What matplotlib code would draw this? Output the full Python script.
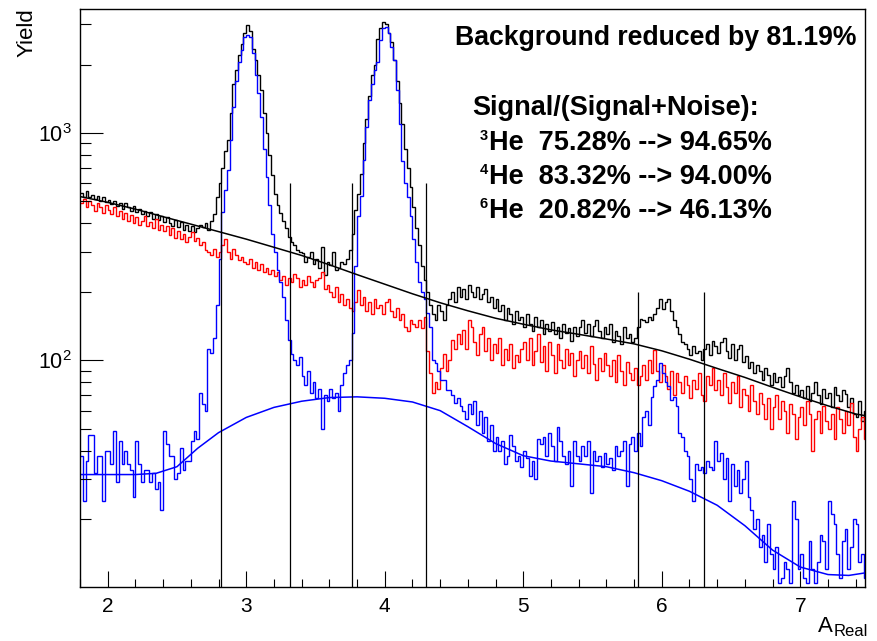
import numpy as np
import matplotlib.pyplot as plt
from matplotlib.ticker import MultipleLocator, LogLocator, NullFormatter, FuncFormatter

plt.rcParams['font.family'] = ['Liberation Sans', 'DejaVu Sans']
plt.rcParams['mathtext.fontset'] = 'custom'
plt.rcParams['mathtext.rm'] = 'Liberation Sans'
plt.rcParams['mathtext.it'] = 'Liberation Sans:italic'
plt.rcParams['mathtext.bf'] = 'Liberation Sans:bold'

# histogram binning (A_Real)
a_min = 1.80
a_step = 0.02
n_bins = 284

# all events (black)
total = [
    545, 525, 555, 520, 535, 510, 530, 500, 520, 495,
    505, 485, 500, 475, 490, 465, 490, 470, 455, 475,
    450, 465, 440, 455, 430, 450, 420, 440, 415, 430,
    405, 425, 400, 390, 415, 385, 405, 375, 395, 370,
    390, 365, 380, 395, 385, 400, 375, 410, 440, 520,
    600, 700, 830, 930, 1220, 1650, 1900, 2200, 2450, 2750,
    2980, 2800, 2350, 2100, 1800, 1550, 1230, 1000, 800, 650,
    540, 480, 445, 410, 380, 350, 330, 320, 305, 300,
    295, 270, 285, 300, 265, 280, 255, 316, 237, 270,
    262, 300, 250, 255, 270, 265, 280, 306, 360, 460,
    540, 660, 900, 1150, 1450, 1800, 2000, 2600, 2900, 3070,
    3000, 2750, 2500, 2100, 1700, 1350, 1100, 850, 700, 580,
    470, 380, 320, 260, 225, 200, 175, 160, 150, 175,
    165, 150, 175, 185, 200, 180, 210, 190, 205, 185,
    215, 200, 190, 210, 185, 195, 205, 180, 190, 170,
    185, 165, 175, 150, 170, 160, 145, 165, 150, 155,
    140, 160, 145, 135, 155, 140, 150, 130, 145, 135,
    148, 130, 140, 125, 145, 132, 138, 122, 140, 128,
    140, 150, 132, 145, 128, 142, 150, 135, 125, 140,
    130, 145, 120, 135, 128, 118, 140, 125, 130, 120,
    125, 140, 152, 150, 148, 155, 150, 160, 170, 185,
    168, 180, 185, 165, 150, 140, 130, 120, 118, 112,
    105, 115, 108, 110, 100, 112, 118, 105, 122, 115,
    108, 120, 125, 110, 102, 118, 100, 112, 117, 98,
    104, 92, 98, 88, 95, 90, 82, 92, 86, 78,
    88, 80, 84, 76, 85, 92, 80, 72, 78, 70,
    74, 68, 77, 66, 72, 80, 70, 64, 75, 68,
    72, 62, 76, 70, 66, 74, 71, 62, 68, 58,
    56, 66, 54, 60,
]

# background after cut (red)
background = [
    490, 510, 470, 500, 480, 455, 490, 470, 445, 480,
    460, 440, 470, 430, 455, 420, 445, 410, 435, 400,
    425, 395, 410, 430, 390, 405, 380, 420, 375, 395,
    370, 390, 355, 380, 345, 370, 340, 360, 330, 350,
    365, 335, 345, 320, 330, 305, 300, 290, 310, 285,
    300, 320, 340, 300, 280, 310, 290, 275, 285, 270,
    265, 280, 255, 270, 250, 265, 245, 255, 240, 250,
    235, 245, 225, 235, 215, 230, 220, 240, 230, 210,
    225, 215, 235, 220, 210, 225, 230, 245, 205, 215,
    200, 190, 210, 180, 195, 175, 185, 170, 165, 180,
    204, 175, 190, 165, 180, 160, 185, 170, 175, 160,
    180, 185, 165, 155, 170, 150, 160, 140, 135, 150,
    145, 140, 150, 138, 155, 110, 88, 72, 80, 75,
    92, 107, 90, 100, 123, 112, 130, 118, 136, 112,
    150, 140, 120, 105, 130, 140, 110, 125, 100, 118,
    108, 125, 95, 112, 100, 118, 92, 105, 98, 112,
    120, 100, 125, 95, 110, 130, 98, 115, 90, 120,
    105, 88, 118, 100, 92, 112, 95, 108, 85, 100,
    110, 92, 105, 88, 115, 96, 82, 102, 90, 108,
    95, 85, 100, 80, 105, 90, 78, 98, 88, 82,
    92, 78, 85, 95, 82, 100, 88, 111, 90, 80,
    95, 85, 75, 90, 70, 88, 80, 72, 85, 78,
    68, 82, 75, 88, 70, 66, 85, 78, 92, 74,
    82, 70, 88, 76, 65, 80, 72, 85, 62, 75,
    70, 60, 78, 66, 58, 72, 64, 55, 68, 50,
    62, 70, 55, 66, 60, 48, 64, 58, 45, 56,
    62, 52, 66, 58, 40, 55, 60, 48, 63, 54,
    50, 58, 45, 62, 55, 48, 60, 52, 65, 46,
    40, 50, 56, 45,
]

# signal after cut (blue)
signal = [
    38, 24, 36, 47, 47, 32, 38, 38, 24, 40,
    40, 35, 49, 29, 44, 35, 40, 35, 33, 25,
    44, 35, 29, 33, 33, 29, 32, 27, 29, 22,
    49, 43, 38, 38, 30, 32, 41, 33, 36, 36,
    44, 49, 45, 72, 64, 60, 112, 108, 125, 175,
    280, 450, 560, 690, 930, 1300, 1700, 2050, 2320, 2640,
    2700, 2650, 2250, 1800, 1500, 1180, 850, 640, 480, 360,
    300, 250, 220, 190, 150, 123, 107, 100, 95, 103,
    85, 78, 90, 72, 80, 68, 75, 50, 70, 66,
    75, 68, 72, 60, 78, 88, 95, 100, 132, 260,
    430, 530, 760, 1060, 1400, 1650, 1900, 2050, 2560, 2900,
    2920, 2750, 2400, 2100, 1550, 1100, 750, 600, 520, 430,
    340, 270, 220, 200, 185, 161, 140, 100, 97, 90,
    82, 82, 74, 74, 70, 65, 68, 63, 60, 55,
    64, 58, 66, 52, 60, 48, 56, 44, 52, 40,
    46, 40, 44, 35, 38, 47, 42, 36, 38, 34,
    40, 37, 31, 36, 30, 45, 43, 46, 38, 48,
    42, 36, 51, 44, 38, 35, 40, 28, 44, 38,
    36, 42, 38, 44, 26, 40, 36, 38, 34, 39,
    35, 37, 33, 42, 38, 40, 44, 28, 43, 46,
    40, 48, 42, 56, 60, 52, 69, 77, 82, 97,
    88, 80, 77, 67, 69, 63, 48, 46, 40, 38,
    30, 24, 35, 33, 34, 32, 36, 34, 33, 44,
    36, 39, 30, 37, 24, 35, 28, 33, 26, 30,
    36, 25, 22, 18, 20, 15, 17, 13, 19, 14,
    12, 15, 10.5, 11, 13, 12, 10.5, 24, 20, 12,
    14, 11, 10.5, 16, 12, 10.5, 13, 17, 16, 12,
    24, 21, 19, 14, 11, 16, 18, 12, 15, 20,
    19, 13, 14, 11,
]

# background fit of all events (black curve)
fit_total_x = [1.8, 2.0, 2.2, 2.4, 2.6, 2.8, 3.0, 3.2, 3.4, 3.6, 3.8, 4.0, 4.2, 4.4, 4.6,
               4.8, 5.0, 5.2, 5.4, 5.6, 5.8, 6.0, 6.2, 6.4, 6.6, 6.8, 7.0, 7.2, 7.4, 7.47]
fit_total_y = [525, 495, 462, 428, 397, 368, 341, 314, 289, 263, 238, 216, 196, 179, 165,
               153, 144, 136, 130, 124, 118, 110, 101, 92, 84, 76, 69, 63, 58, 57]

# background fit of signal (blue curve)
fit_signal_x = [1.8, 2.0, 2.2, 2.35, 2.5, 2.65, 2.8, 3.0, 3.2, 3.4, 3.6, 3.8, 4.0, 4.2, 4.4,
                4.6, 4.8, 5.0, 5.2, 5.4, 5.6, 5.8, 6.0, 6.2, 6.4, 6.6, 6.8, 7.0, 7.2, 7.35, 7.47]
fit_signal_y = [31.4, 31.4, 31.4, 31.8, 34, 41, 48, 56, 62, 66, 68.5, 69, 68, 65.5, 60,
                51, 43, 38, 36, 35, 34, 32, 29.5, 26.5, 23, 18.7, 14.6, 12.3, 11.4, 11.3, 11.6]

# cut boundaries
cut_x = [2.815, 3.315, 3.765, 4.295, 5.825, 6.305]
cut_top = [603, 603, 603, 603, 200, 200]

W, H = 878, 641
fig = plt.figure(figsize=(W / 100, H / 100), dpi=100)
ax = fig.add_axes([80 / W, 1 - 587 / H, (865 - 80) / W, (587 - 9) / H])

edges = a_min + a_step * np.arange(n_bins + 1)
ax.stairs(total, edges, baseline=None, color='black', lw=1.0)
ax.plot(fit_total_x, fit_total_y, color='black', lw=1.1)
ax.stairs(background, edges, baseline=None, color='#ff0000', lw=1.0)
ax.stairs(signal, edges, baseline=None, color='#0000ff', lw=1.0)
ax.plot(fit_signal_x, fit_signal_y, color='#0000ff', lw=1.1)
y_lo, y_hi = 10.05, 3510
ax.vlines(cut_x, y_lo, cut_top, color='black', lw=0.9)

ax.set_yscale('log')
ax.set_xlim(1.8, 7.467)
ax.set_ylim(y_lo, y_hi)

ax.xaxis.set_major_locator(MultipleLocator(1))
ax.xaxis.set_minor_locator(MultipleLocator(0.2))
ax.xaxis.set_major_formatter(FuncFormatter(lambda v, p: '%d' % round(v)))
ax.yaxis.set_major_locator(LogLocator(base=10))
ax.yaxis.set_minor_locator(LogLocator(base=10, subs=np.arange(2, 10)))
ax.yaxis.set_minor_formatter(NullFormatter())
ax.yaxis.set_major_formatter(FuncFormatter(lambda v, p: r'$10^{%d}$' % round(np.log10(v))))

ax.tick_params(axis='x', which='major', direction='in', length=11.5, width=0.8, labelsize=15, pad=7)
ax.tick_params(axis='x', which='minor', direction='in', length=5.8, width=0.8)
ax.tick_params(axis='y', which='major', direction='in', length=16.5, width=0.8, labelsize=15.5, pad=6)
ax.tick_params(axis='y', which='minor', direction='in', length=8, width=0.8)
for s in ax.spines.values():
    s.set_linewidth(1.0)


def px(x, y):
    return x / W, 1 - y / H


fig.text(*px(27, 8), 'Yield', rotation=90, ha='center', va='top', fontsize=16)
fig.text(*px(818, 632), 'A', ha='left', va='baseline', fontsize=16)
fig.text(*px(834, 636), 'Real', ha='left', va='baseline', fontsize=12)

fig.text(*px(455, 45), 'Background reduced by 81.19%', ha='left', va='baseline',
         fontsize=19.2, fontweight='bold')
fig.text(*px(472, 115), 'Signal/(Signal+Noise):', ha='left', va='baseline',
         fontsize=19.5, fontweight='bold')

iso_rows = [('3', 'He  75.28% --> 94.65%'),
            ('4', 'He  83.32% --> 94.00%'),
            ('6', 'He  20.82% --> 46.13%')]
for i, (mass, txt) in enumerate(iso_rows):
    base = 150 + 34 * i
    fig.text(*px(480, base - 10), mass, ha='left', va='baseline', fontsize=10.5, fontweight='bold')
    fig.text(*px(489, base), txt, ha='left', va='baseline', fontsize=19.5, fontweight='bold')

fig.savefig('out.png', dpi=100)
